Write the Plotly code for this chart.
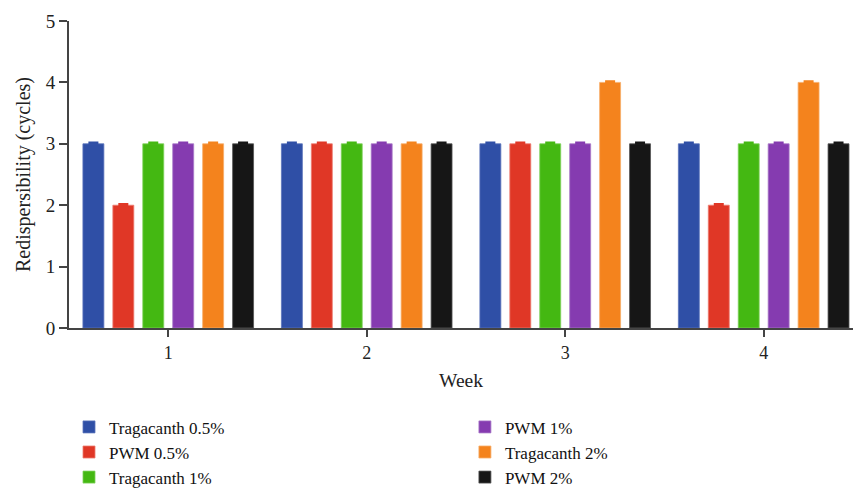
import plotly.graph_objects as go

weeks = ["1", "2", "3", "4"]
series_names = ["Tragacanth 0.5%", "PWM 0.5%", "Tragacanth 1%", "PWM 1%", "Tragacanth 2%", "PWM 2%"]
trag_05 = [3, 3, 3, 3]
pwm_05 = [2, 3, 3, 2]
trag_1 = [3, 3, 3, 3]
pwm_1 = [3, 3, 3, 3]
trag_2 = [3, 3, 4, 4]
pwm_2 = [3, 3, 3, 3]
errors = [0.02, 0.02, 0.02, 0.02]
y_ticks = [0, 1, 2, 3, 4, 5]

values = [trag_05, pwm_05, trag_1, pwm_1, trag_2, pwm_2]
colors = ["#2f4fa6", "#e03726", "#44b812", "#853bb0", "#f4831d", "#161616"]
edge_colors = ["#5a74bb", "#ec7b70", "#7fd05c", "#a878c8", "#f8ad6a", "#555555"]
legends = ["legend", "legend", "legend", "legend2", "legend2", "legend2"]

FONT = "Liberation Serif, DejaVu Serif, serif"

fig = go.Figure()
for name, vals, c, ec, lg in zip(series_names, values, colors, edge_colors, legends):
    fig.add_trace(go.Bar(
        x=weeks, y=vals, name=name,
        marker=dict(color=c, line=dict(color=ec, width=0.8)),
        error_y=dict(type="data", array=errors, symmetric=False, arrayminus=[0]*4,
                     color=c, thickness=2, width=5),
        legend=lg,
    ))

fig.update_layout(
    width=853, height=505,
    margin=dict(l=69, r=0, t=21, b=177, autoexpand=False),
    paper_bgcolor="white", plot_bgcolor="white",
    font=dict(family=FONT, size=17, color="#222222"),
    barmode="group", bargap=0.095, bargroupgap=0.3,
    showlegend=True,
    legend=dict(x=0.0, y=-0.265, xanchor="left", yanchor="top",
                orientation="v", font=dict(family=FONT, size=17, color="#111"),
                tracegroupgap=0, itemwidth=30, bgcolor="rgba(0,0,0,0)"),
    legend2=dict(x=0.505, y=-0.265, xanchor="left", yanchor="top",
                 orientation="v", font=dict(family=FONT, size=17, color="#111"),
                 tracegroupgap=0, itemwidth=30, bgcolor="rgba(0,0,0,0)"),
)

fig.update_xaxes(
    type="category", range=[-0.5, 3.45], automargin=False,
    showline=True, linecolor="#444444", linewidth=2,
    ticks="outside", ticklen=7, tickwidth=1.5, tickcolor="#444444",
    showgrid=False, zeroline=False,
    tickfont=dict(family=FONT, size=18, color="#222"),
    title=dict(text="Week", font=dict(family=FONT, size=19.5, color="#222"), standoff=12),
)
fig.update_yaxes(
    range=[0, 5], tickvals=y_ticks, automargin=False,
    showline=True, linecolor="#444444", linewidth=2,
    ticks="outside", ticklen=8, tickwidth=1.5, tickcolor="#444444",
    showgrid=False, zeroline=False,
    tickfont=dict(family=FONT, size=19, color="#222"),
    title=dict(text="Redispersibility (cycles)", font=dict(family=FONT, size=20, color="#222"), standoff=10),
)

fig.write_html("out.html", config={"displayModeBar": False},
               post_script="document.body.style.margin='0';document.body.style.overflow='hidden';")
